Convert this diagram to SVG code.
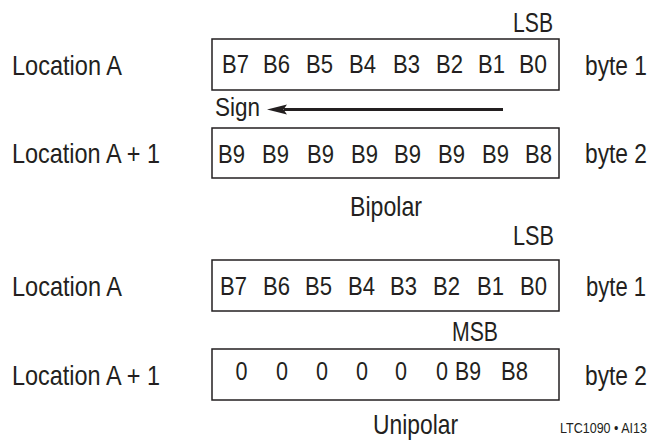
<svg xmlns="http://www.w3.org/2000/svg" width="661" height="441" viewBox="0 0 661 441">
<style>
text{font-family:"Liberation Sans",Arial,sans-serif;fill:#231f20}
.lbl{font-size:28.5px}
.byte{font-size:27.5px}
.bit{font-size:25.5px}
.box{fill:none;stroke:#231f20;stroke-width:1.5}
.small{font-size:14px}
</style>
<rect width="661" height="441" fill="#fff"/>
<g id="bipolar">
<text class="lbl" x="513" y="32" textLength="40" lengthAdjust="spacingAndGlyphs">LSB</text>
<g id="bip-byte1">
<text class="lbl" x="12" y="75" textLength="110" lengthAdjust="spacingAndGlyphs">Location A</text>
<rect class="box" x="212" y="39" width="347" height="51"/>
<text class="bit" x="222" y="73" textLength="27" lengthAdjust="spacingAndGlyphs">B7</text>
<text class="bit" x="263" y="73" textLength="27" lengthAdjust="spacingAndGlyphs">B6</text>
<text class="bit" x="306" y="73" textLength="27" lengthAdjust="spacingAndGlyphs">B5</text>
<text class="bit" x="349" y="73" textLength="27" lengthAdjust="spacingAndGlyphs">B4</text>
<text class="bit" x="393" y="73" textLength="27" lengthAdjust="spacingAndGlyphs">B3</text>
<text class="bit" x="436" y="73" textLength="27" lengthAdjust="spacingAndGlyphs">B2</text>
<text class="bit" x="478" y="73" textLength="27" lengthAdjust="spacingAndGlyphs">B1</text>
<text class="bit" x="519" y="73" textLength="28" lengthAdjust="spacingAndGlyphs">B0</text>
<text class="byte" x="585" y="75" textLength="62" lengthAdjust="spacingAndGlyphs">byte 1</text>
</g>
<text id="sign" class="bit" x="215" y="116" textLength="45" lengthAdjust="spacingAndGlyphs">Sign</text>
<g id="bip-byte2">
<text class="lbl" x="12" y="163" textLength="148" lengthAdjust="spacingAndGlyphs">Location A + 1</text>
<rect class="box" x="212" y="128" width="347" height="50"/>
<text class="bit" x="218" y="163" textLength="27" lengthAdjust="spacingAndGlyphs">B9</text>
<text class="bit" x="262" y="163" textLength="27" lengthAdjust="spacingAndGlyphs">B9</text>
<text class="bit" x="307" y="163" textLength="27" lengthAdjust="spacingAndGlyphs">B9</text>
<text class="bit" x="351" y="163" textLength="27" lengthAdjust="spacingAndGlyphs">B9</text>
<text class="bit" x="394" y="163" textLength="27" lengthAdjust="spacingAndGlyphs">B9</text>
<text class="bit" x="438" y="163" textLength="27" lengthAdjust="spacingAndGlyphs">B9</text>
<text class="bit" x="482" y="163" textLength="27" lengthAdjust="spacingAndGlyphs">B9</text>
<text class="bit" x="525" y="163" textLength="27" lengthAdjust="spacingAndGlyphs">B8</text>
<text class="byte" x="585" y="163" textLength="62" lengthAdjust="spacingAndGlyphs">byte 2</text>
</g>
<text class="lbl" x="350" y="216" textLength="72" lengthAdjust="spacingAndGlyphs">Bipolar</text>
</g>
<g id="unipolar">
<text class="lbl" x="513" y="245" textLength="41" lengthAdjust="spacingAndGlyphs">LSB</text>
<g id="uni-byte1">
<text class="lbl" x="12" y="296" textLength="110" lengthAdjust="spacingAndGlyphs">Location A</text>
<rect class="box" x="212" y="260" width="347" height="51"/>
<text class="bit" x="220" y="295" textLength="27" lengthAdjust="spacingAndGlyphs">B7</text>
<text class="bit" x="263" y="295" textLength="27" lengthAdjust="spacingAndGlyphs">B6</text>
<text class="bit" x="305" y="295" textLength="27" lengthAdjust="spacingAndGlyphs">B5</text>
<text class="bit" x="348" y="295" textLength="27" lengthAdjust="spacingAndGlyphs">B4</text>
<text class="bit" x="390" y="295" textLength="27" lengthAdjust="spacingAndGlyphs">B3</text>
<text class="bit" x="433" y="295" textLength="27" lengthAdjust="spacingAndGlyphs">B2</text>
<text class="bit" x="477" y="295" textLength="27" lengthAdjust="spacingAndGlyphs">B1</text>
<text class="bit" x="520" y="295" textLength="27" lengthAdjust="spacingAndGlyphs">B0</text>
<text class="byte" x="586" y="296" textLength="60" lengthAdjust="spacingAndGlyphs">byte 1</text>
</g>
<text class="lbl" x="452" y="341" textLength="46" lengthAdjust="spacingAndGlyphs">MSB</text>
<g id="uni-byte2">
<text class="lbl" x="12" y="385" textLength="148" lengthAdjust="spacingAndGlyphs">Location A + 1</text>
<rect class="box" x="212" y="349" width="347" height="51"/>
<text class="bit" x="235.5" y="380" textLength="12" lengthAdjust="spacingAndGlyphs">0</text>
<text class="bit" x="276" y="380" textLength="12" lengthAdjust="spacingAndGlyphs">0</text>
<text class="bit" x="316" y="380" textLength="12" lengthAdjust="spacingAndGlyphs">0</text>
<text class="bit" x="356" y="380" textLength="12" lengthAdjust="spacingAndGlyphs">0</text>
<text class="bit" x="395" y="380" textLength="12" lengthAdjust="spacingAndGlyphs">0</text>
<text class="bit" x="436" y="380" textLength="12" lengthAdjust="spacingAndGlyphs">0</text>
<text class="bit" x="455" y="380" textLength="26" lengthAdjust="spacingAndGlyphs">B9</text>
<text class="bit" x="501" y="380" textLength="27" lengthAdjust="spacingAndGlyphs">B8</text>
<text class="byte" x="585" y="385" textLength="62" lengthAdjust="spacingAndGlyphs">byte 2</text>
</g>
<text class="lbl" x="373" y="434" textLength="85" lengthAdjust="spacingAndGlyphs">Unipolar</text>
</g>
<text class="small" x="560" y="433" textLength="87" lengthAdjust="spacingAndGlyphs">LTC1090 • AI13</text>
<g id="connectors">
<line x1="503" y1="109.5" x2="284" y2="109.5" stroke="#231f20" stroke-width="2.8"/>
<polygon points="267,109.5 287,104.5 283.5,109.5 287,114.5" fill="#231f20"/>
</g>
</svg>
